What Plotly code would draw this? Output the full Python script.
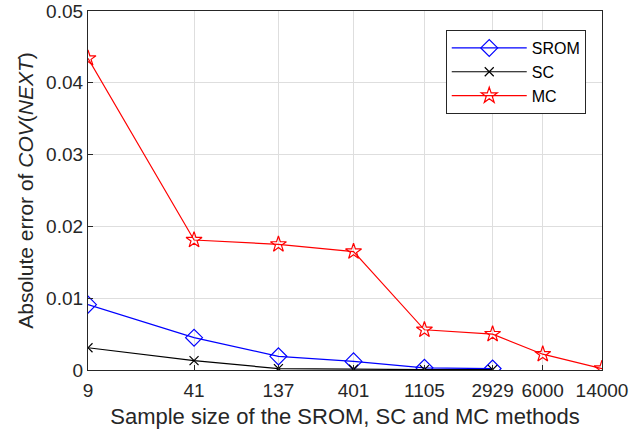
import plotly.graph_objects as go

x_srom = [9, 41, 137, 401, 1105, 2929]
x_sc = [9, 41, 137, 401, 1105, 2929]
x_mc = [9, 41, 137, 401, 1105, 2929, 6000, 14000]
y_srom = [0.0091, 0.0045, 0.0019, 0.0012, 0.0003, 0.0002]
y_sc = [0.0031, 0.0013, 0.0002, 0.0001, 0.00005, 0.00005]
y_mc = [0.0434, 0.0181, 0.0175, 0.0165, 0.0056, 0.0050, 0.0022, 0.0002]
x_ticks = [9, 41, 137, 401, 1105, 2929, 6000, 14000]
y_ticks = [0, 0.01, 0.02, 0.03, 0.04, 0.05]

AX = "#262626"
fig = go.Figure()
fig.add_trace(go.Scatter(x=x_srom, y=y_srom, name="SROM", mode="lines+markers",
                         line=dict(color="#0000ff", width=1.2),
                         marker=dict(symbol="diamond-open", size=13, color="#0000ff", line=dict(width=1.2))))
fig.add_trace(go.Scatter(x=x_sc, y=y_sc, name="SC", mode="lines+markers",
                         line=dict(color="#000000", width=1.2),
                         marker=dict(symbol="x-thin-open", size=9, color="#000000", line=dict(width=1.2, color="#000000"))))
fig.add_trace(go.Scatter(x=x_mc, y=y_mc, name="MC", mode="lines+markers",
                         line=dict(color="#ff0000", width=1.2),
                         marker=dict(symbol="star-open", size=12, color="#ff0000", line=dict(width=1.2))))

fig.update_layout(
    width=640, height=432,
    margin=dict(l=88, r=38, t=11, b=62),
    paper_bgcolor="white", plot_bgcolor="white",
    font=dict(family="Liberation Sans, Arial, sans-serif", size=19, color=AX),
    showlegend=True,
    legend=dict(x=0.696, y=0.947, xanchor="left", yanchor="top",
                bgcolor="white", bordercolor=AX, borderwidth=1,
                font=dict(size=16, color="#000000"),
                tracegroupgap=0, itemwidth=75),
)
fig.update_xaxes(type="log", range=[0.95424, 4.14613],
                 tickvals=x_ticks, ticktext=[str(v) for v in x_ticks],
                 tickfont=dict(size=19), ticklabelstandoff=3,
                 showline=True, linecolor=AX, linewidth=1.3, mirror=True,
                 ticks="inside", ticklen=5, tickcolor=AX,
                 showgrid=True, gridcolor="#dedede", gridwidth=1,
                 zeroline=False, automargin=False,
                 title=dict(text="Sample size of the SROM, SC and MC methods", standoff=8,
                            font=dict(size=22)))
fig.update_yaxes(range=[0, 0.05], tickvals=y_ticks,
                 ticktext=["0", "0.01", "0.02", "0.03", "0.04", "0.05"],
                 tickfont=dict(size=19),
                 showline=True, linecolor=AX, linewidth=1.3, mirror=True,
                 ticks="inside", ticklen=5, tickcolor=AX,
                 showgrid=True, gridcolor="#dedede", gridwidth=1,
                 zeroline=False, automargin=False,
                 title=dict(text="Absolute error of <i>COV</i>(<i>NEXT</i>)", standoff=6,
                            font=dict(size=21)))
fig.write_html("out.html")
